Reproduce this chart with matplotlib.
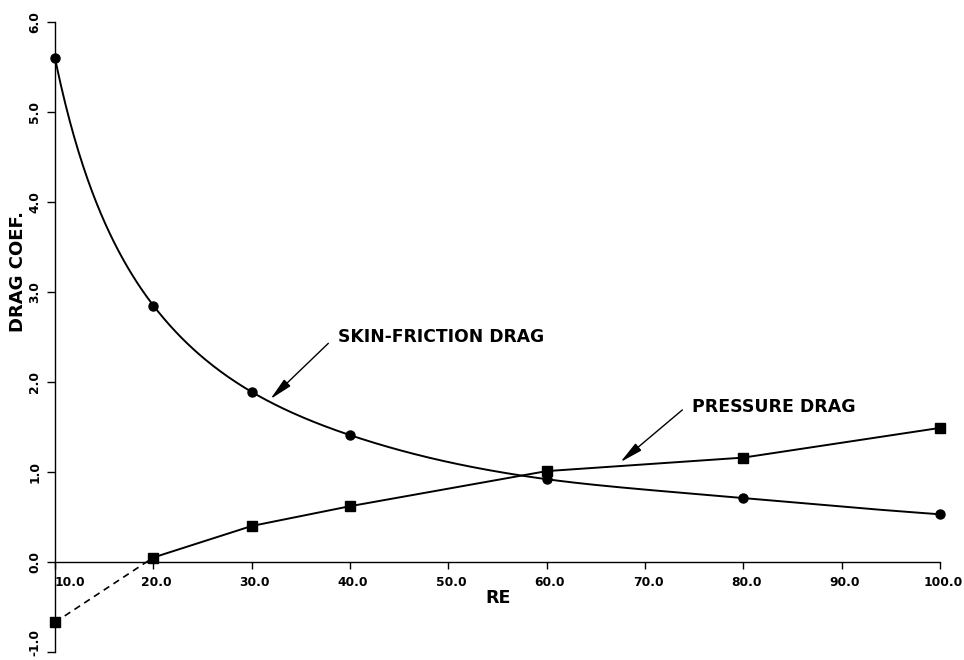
import numpy as np
import matplotlib
matplotlib.use("Agg")
import matplotlib.pyplot as plt
from matplotlib.transforms import ScaledTranslation

# ---- data ----
re_skin = [10, 20, 30, 40, 60, 80, 100]
cd_skin = [5.60, 2.85, 1.89, 1.41, 0.92, 0.71, 0.53]

re_press = [10, 20, 30, 40, 60, 80, 100]
cd_press = [-0.67, 0.05, 0.40, 0.62, 1.01, 1.16, 1.49]

x_ticks = [10, 20, 30, 40, 50, 60, 70, 80, 90, 100]
x_ticklabels = ["10.0", "20.0", "30.0", "40.0", "50.0", "60.0", "70.0", "80.0", "90.0", "100.0"]
y_ticks = [-1, 0, 1, 2, 3, 4, 5, 6]
y_ticklabels = ["-1.0", "0.0", "1.0", "2.0", "3.0", "4.0", "5.0", "6.0"]


def pchip(x, y, xn):
    x = np.asarray(x, float); y = np.asarray(y, float)
    h = np.diff(x); d = np.diff(y) / h
    n = len(x); m = np.zeros(n)
    for k in range(1, n - 1):
        if d[k - 1] * d[k] > 0:
            w1 = 2 * h[k] + h[k - 1]; w2 = h[k] + 2 * h[k - 1]
            m[k] = (w1 + w2) / (w1 / d[k - 1] + w2 / d[k])
    def end(h0, h1, d0, d1):
        s = ((2 * h0 + h1) * d0 - h0 * d1) / (h0 + h1)
        if np.sign(s) != np.sign(d0):
            s = 0.0
        elif np.sign(d0) != np.sign(d1) and abs(s) > abs(3 * d0):
            s = 3 * d0
        return s
    m[0] = end(h[0], h[1], d[0], d[1])
    m[-1] = end(h[-1], h[-2], d[-1], d[-2])
    idx = np.clip(np.searchsorted(x, xn) - 1, 0, n - 2)
    t = (xn - x[idx]) / h[idx]
    h00 = 2 * t**3 - 3 * t**2 + 1; h10 = t**3 - 2 * t**2 + t
    h01 = -2 * t**3 + 3 * t**2; h11 = t**3 - t**2
    return h00 * y[idx] + h10 * h[idx] * m[idx] + h01 * y[idx + 1] + h11 * h[idx] * m[idx + 1]


fig = plt.figure(figsize=(9.64, 6.6), dpi=100)
ax = fig.add_axes([55 / 964, 8 / 660, 885 / 964, 630 / 660])
ax.set_xlim(10, 100)
ax.set_ylim(-1, 6)

# skin-friction curve (smooth in log-log space)
xs = np.linspace(10, 100, 600)
ys = np.exp(pchip(np.log(re_skin), np.log(cd_skin), np.log(xs)))
ax.plot(xs, ys, color="black", lw=1.4, clip_on=False)
ax.plot(re_skin, cd_skin, "o", color="black", ms=6.5, clip_on=False)

# pressure curve
ax.plot(re_press[1:], cd_press[1:], color="black", lw=1.4, solid_joinstyle="round",
        clip_on=False)
ax.plot(re_press[:2], cd_press[:2], color="black", lw=1.2, ls=(0, (4, 3)), clip_on=False)
ax.plot(re_press, cd_press, "s", color="black", ms=6.5, clip_on=False)

# axes styling
for s in ["top", "right"]:
    ax.spines[s].set_visible(False)
ax.spines["bottom"].set_position(("data", 0))
ax.spines["bottom"].set_linewidth(1.0)
ax.spines["left"].set_linewidth(1.0)

tickfont = dict(family="DejaVu Sans", weight="bold", size=8.8)
ax.set_xticks(x_ticks)
ax.set_xticklabels(x_ticklabels, **tickfont)
ax.set_yticks(y_ticks)
ax.set_yticklabels(y_ticklabels, rotation=90, va="center", **tickfont)
ax.tick_params(axis="x", direction="out", length=5, width=1, pad=5)
ax.tick_params(axis="y", direction="out", length=6, width=1, pad=4)
xl = ax.get_xticklabels()
xl[0].set_horizontalalignment("left")
for lab in xl[1:]:
    lab.set_transform(lab.get_transform() + ScaledTranslation(3 / 100, 0, fig.dpi_scale_trans))
yl = ax.get_yticklabels()
yl[0].set_transform(yl[0].get_transform() + ScaledTranslation(0, 10 / 100, fig.dpi_scale_trans))

labfont = dict(family="DejaVu Sans", weight="bold")
fig.text(485 / 964, 1 - 598 / 660, "RE", ha="left", va="center", fontsize=12.5, **labfont)
fig.text(18 / 964, 1 - 271 / 660, "DRAG COEF.", rotation=90, ha="center", va="center",
         fontsize=13, **labfont)

arrow = dict(arrowstyle="-|>,head_length=1.0,head_width=0.2", color="black", lw=1.0,
             mutation_scale=14, shrinkA=0, shrinkB=0)
ax.annotate("", xy=(31.9, 1.81), xytext=(37.8, 2.43), arrowprops=arrow, annotation_clip=False)
ax.text(38.8, 2.50, "SKIN-FRICTION DRAG", ha="left", va="center", fontsize=12.3, **labfont)
ax.annotate("", xy=(67.5, 1.11), xytext=(73.8, 1.69), arrowprops=arrow, annotation_clip=False)
ax.text(74.8, 1.72, "PRESSURE DRAG", ha="left", va="center", fontsize=12.5, **labfont)

fig.savefig("out.png", dpi=100)
